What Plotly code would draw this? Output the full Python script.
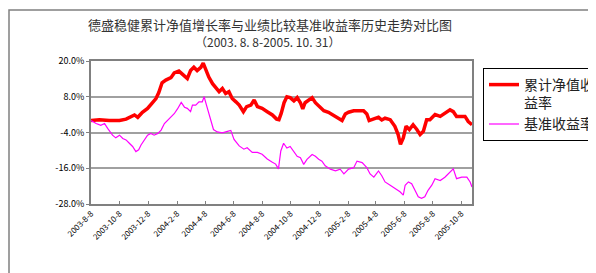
import plotly.graph_objects as go

title_text = "德盛稳健累计净值增长率与业绩比较基准收益率历史走势对比图"
subtitle_text = "（2003. 8. 8-2005. 10. 31）"
series_names = ["累计净值收<br>益率", "基准收益率"]

red_dates = [
    "2003-08-08", "2003-08-26", "2003-09-16", "2003-10-08", "2003-10-22", "2003-11-02",
    "2003-11-09", "2003-11-16", "2003-11-26", "2003-12-07", "2003-12-18", "2003-12-25",
    "2003-12-31", "2004-01-07", "2004-01-15", "2004-01-26", "2004-02-02", "2004-02-12",
    "2004-02-20", "2004-03-01", "2004-03-08", "2004-03-15", "2004-03-22", "2004-03-30",
    "2004-04-04", "2004-04-09", "2004-04-16", "2004-04-24", "2004-05-01", "2004-05-08",
    "2004-05-15", "2004-05-22", "2004-05-29", "2004-06-05", "2004-06-13", "2004-06-20",
    "2004-06-29", "2004-07-06", "2004-07-15", "2004-07-22", "2004-07-29", "2004-08-08",
    "2004-08-19", "2004-08-30", "2004-09-08", "2004-09-13", "2004-09-18", "2004-09-24",
    "2004-09-30", "2004-10-07", "2004-10-15", "2004-10-22", "2004-10-29", "2004-11-03",
    "2004-11-08", "2004-11-16", "2004-11-23", "2004-11-30", "2004-12-07", "2004-12-18",
    "2004-12-28", "2005-01-08", "2005-01-19", "2005-01-26", "2005-02-02", "2005-02-09",
    "2005-02-20", "2005-03-03", "2005-03-13", "2005-03-20", "2005-03-25", "2005-04-04",
    "2005-04-14", "2005-04-21", "2005-04-28", "2005-05-09", "2005-05-19", "2005-05-26",
    "2005-05-31", "2005-06-06", "2005-06-12", "2005-06-19", "2005-06-27", "2005-07-05",
    "2005-07-12", "2005-07-19", "2005-07-26", "2005-08-02", "2005-08-13", "2005-08-24",
    "2005-09-03", "2005-09-14", "2005-09-21", "2005-09-28", "2005-10-09", "2005-10-16",
    "2005-10-23", "2005-10-31",
]
red_values = [
    0.0, 0.3, 0.0, 0.0, 0.5, 1.3,
    1.9, 1.1, 2.8, 4.1, 6.0, 7.4,
    9.4, 12.7, 13.6, 14.4, 16.0, 16.6,
    15.5, 14.1, 16.8, 17.9, 16.8, 17.9,
    19.3, 17.4, 14.6, 12.4, 10.8, 9.7,
    10.8, 9.1, 9.7, 7.4, 6.3, 5.2,
    3.0, 4.7, 5.2, 6.9, 4.7, 4.1,
    3.0, 1.9, 0.5, 0.3, 2.5, 6.0,
    8.0, 7.7, 6.6, 7.7, 6.0, 3.9,
    6.0, 7.1, 7.7, 6.0, 4.9, 3.3,
    2.8, 1.7, 0.6, 0.0, 2.2, 2.8,
    3.3, 3.3, 3.3, 2.2, 0.0, 0.6,
    1.1, 0.2, 0.8, 0.3, -1.9, -4.7,
    -8.0, -5.8, -1.9, -3.0, -1.4, -3.0,
    -4.7, -3.6, 0.3, 0.3, 2.0, 1.4,
    2.5, 3.6, 3.0, 1.4, 1.4, 1.4,
    -0.3, -1.4,
]

pink_dates = [
    "2003-08-08", "2003-08-19", "2003-08-29", "2003-09-06", "2003-09-13", "2003-09-23",
    "2003-09-30", "2003-10-08", "2003-10-15", "2003-10-22", "2003-10-29", "2003-11-05",
    "2003-11-12", "2003-11-18", "2003-11-23", "2003-11-30", "2003-12-07", "2003-12-14",
    "2003-12-21", "2003-12-29", "2004-01-05", "2004-01-12", "2004-01-19", "2004-01-26",
    "2004-02-02", "2004-02-09", "2004-02-17", "2004-02-24", "2004-03-01", "2004-03-08",
    "2004-03-12", "2004-03-19", "2004-03-26", "2004-04-02", "2004-04-06", "2004-04-11",
    "2004-04-19", "2004-04-26", "2004-05-04", "2004-05-15", "2004-05-26", "2004-06-02",
    "2004-06-09", "2004-06-20", "2004-06-30", "2004-07-07", "2004-07-18", "2004-07-29",
    "2004-08-08", "2004-08-19", "2004-08-30", "2004-09-06", "2004-09-12", "2004-09-17",
    "2004-09-23", "2004-09-30", "2004-10-07", "2004-10-15", "2004-10-22", "2004-10-29",
    "2004-11-05", "2004-11-12", "2004-11-23", "2004-11-30", "2004-12-07", "2004-12-14",
    "2004-12-21", "2005-01-01", "2005-01-12", "2005-01-22", "2005-01-30", "2005-02-09",
    "2005-02-20", "2005-02-27", "2005-03-10", "2005-03-20", "2005-03-27", "2005-04-04",
    "2005-04-14", "2005-04-21", "2005-04-28", "2005-05-09", "2005-05-19", "2005-05-30",
    "2005-06-06", "2005-06-10", "2005-06-17", "2005-06-24", "2005-07-01", "2005-07-08",
    "2005-07-15", "2005-07-22", "2005-07-29", "2005-08-06", "2005-08-13", "2005-08-24",
    "2005-09-03", "2005-09-14", "2005-09-21", "2005-09-28", "2005-10-09", "2005-10-20",
    "2005-10-27", "2005-10-31",
]
pink_values = [
    0.0, -1.0, -1.6, -1.0, -2.7, -4.9,
    -5.8, -4.9, -6.0, -6.5, -7.6, -8.7,
    -10.4, -9.8, -8.2, -6.5, -4.9, -4.3,
    -4.9, -4.3, -3.2, -1.0, 0.1, 1.2,
    2.3, 3.9, 6.1, 4.5, 4.1, 3.0,
    5.2, 5.2, 6.3, 6.3, 8.0, 5.2,
    0.8, -3.0, -3.8, -4.1, -3.6, -3.3,
    -6.3, -8.5, -9.6, -9.1, -10.7, -10.7,
    -11.3, -12.9, -14.0, -14.6, -16.2, -10.2,
    -7.6, -9.2, -8.7, -10.3, -12.0, -12.5,
    -14.7, -13.0, -11.4, -12.0, -13.0, -13.6,
    -15.2, -16.3, -16.9, -16.3, -17.9, -16.3,
    -15.8, -13.6, -14.1, -15.8, -17.9, -19.0,
    -16.9, -18.5, -20.6, -21.7, -22.8, -23.9,
    -25.0, -21.7, -20.6, -21.2, -23.4, -25.6,
    -26.1, -25.6, -23.4, -21.7, -19.5, -20.1,
    -19.0, -17.3, -16.2, -19.5, -19.0, -19.0,
    -20.6, -22.3,
]

x_tick_vals = [
    "2003-08-08", "2003-10-08", "2003-12-08", "2004-02-08", "2004-04-08", "2004-06-08",
    "2004-08-08", "2004-10-08", "2004-12-08", "2005-02-08", "2005-04-08", "2005-06-08",
    "2005-08-08", "2005-10-08",
]
x_tick_text = [
    "2003-8-8", "2003-10-8", "2003-12-8", "2004-2-8", "2004-4-8", "2004-6-8",
    "2004-8-8", "2004-10-8", "2004-12-8", "2005-2-8", "2005-4-8", "2005-6-8",
    "2005-8-8", "2005-10-8",
]
y_tick_vals = [20, 8, -4, -16, -28]
y_tick_text = ["20.0%", "8.0%", "-4.0%", "-16.0%", "-28.0%"]

# the page body adds an 8px offset; work in window pixels and convert
OFF = 8
W, H = 596 - OFF, 273 - OFF
L, R, T, B = 91 - OFF, 472 - OFF, 61 - OFF, 204 - OFF

def px(x):
    return (x - OFF - L) / (R - L)

def py(y):
    return (B - (y - OFF)) / (B - T)

fig = go.Figure()
fig.add_trace(go.Scatter(x=red_dates, y=red_values, mode="lines", name=series_names[0],
                         line=dict(color="#FF0000", width=3.5)))
fig.add_trace(go.Scatter(x=pink_dates, y=pink_values, mode="lines", name=series_names[1],
                         line=dict(color="#FF00FF", width=1.2)))

font_cjk = "Noto Sans CJK SC, Noto Sans, sans-serif"

fig.update_layout(
    width=W, height=H,
    margin=dict(l=L, r=W - R, t=T, b=H - B, autoexpand=False),
    paper_bgcolor="white", plot_bgcolor="white",
    font=dict(family=font_cjk, size=9, color="#000000"),
    showlegend=True,
    legend=dict(
        x=px(483), y=py(68), xanchor="left", yanchor="top",
        bordercolor="#000000", borderwidth=1, bgcolor="white",
        font=dict(family=font_cjk, size=14, color="#222222"),
        valign="top", tracegroupgap=4, itemwidth=30,
    ),
    xaxis=dict(
        type="date", range=["2003-08-08", "2005-10-31"],
        tickmode="array", tickvals=x_tick_vals, ticktext=x_tick_text,
        tickangle=-45, tickfont=dict(size=8, color="#000000"),
        ticks="inside", ticklen=3, tickcolor="#808080",
        showgrid=False, showline=True, linecolor="#808080", linewidth=2, mirror=True,
        zeroline=False,
    ),
    yaxis=dict(
        range=[-28, 20], tickmode="array", tickvals=y_tick_vals, ticktext=y_tick_text,
        tickfont=dict(size=9, color="#000000"),
        ticks="outside", ticklen=3, tickcolor="#808080",
        showgrid=True, gridcolor="#A0A0A0", gridwidth=2,
        showline=True, linecolor="#808080", linewidth=2, mirror=True,
        zeroline=False,
    ),
    shapes=[
        dict(type="rect", xref="paper", yref="paper",
             x0=px(9), x1=px(640), y0=py(10), y1=py(320),
             line=dict(color="#808080", width=1.5), fillcolor="rgba(0,0,0,0)"),
    ],
    annotations=[
        dict(text=title_text, xref="paper", yref="paper", x=px(270), y=py(24),
             xanchor="center", yanchor="middle", showarrow=False,
             font=dict(family=font_cjk, size=13, color="#333333")),
        dict(text=subtitle_text, xref="paper", yref="paper", x=px(268), y=py(41),
             xanchor="center", yanchor="middle", showarrow=False,
             font=dict(family=font_cjk, size=12, color="#333333")),
    ],
)

fig.write_html("out.html")
